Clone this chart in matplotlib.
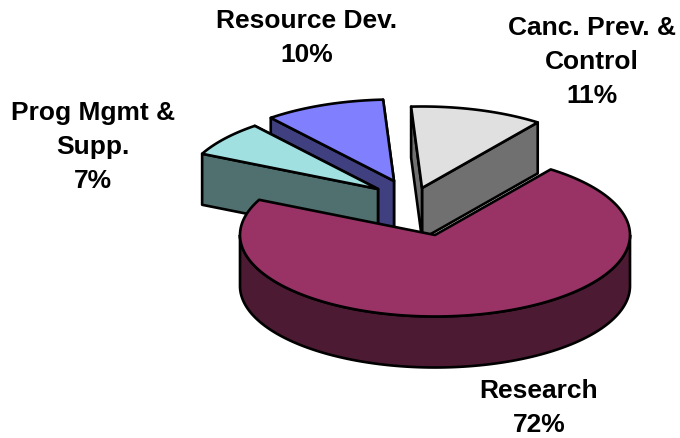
import numpy as np
import matplotlib
matplotlib.use("Agg")
import matplotlib.pyplot as plt
from matplotlib.patches import Polygon

# Data
categories = ["Research", "Canc. Prev. &\nControl", "Resource Dev.", "Prog Mgmt &\nSupp."]
values = [72, 11, 10, 7]

# Styles and layout
top_colors = ["#993366", "#E0E0E0", "#8080FF", "#A0E0E0"]
side_colors = ["#4D1A33", "#707070", "#404080", "#507070"]
centers = [(435, 235), (422, 188), (394, 181), (378, 189)]
label_pos = [(539, 408), (592, 62), (307, 38), (93, 147)]
draw_order = [2, 3, 1, 0]
RX, RY, DEPTH = 195, 81.5, 51
START = 53.6
LW = 1.9

fig = plt.figure(figsize=(6.8, 4.38), dpi=100)
ax = fig.add_axes([0, 0, 1, 1])
ax.set_xlim(0, 680)
ax.set_ylim(438, 0)
ax.axis("off")


def rim(c, a0, a1, dy=0.0):
    t = np.radians(np.linspace(a0, a1, 160))
    return np.column_stack([c[0] + RX * np.cos(t), c[1] - RY * np.sin(t) + dy])


def poly(pts, color, z):
    ax.add_patch(Polygon(pts, closed=True, facecolor=color, edgecolor="black",
                         linewidth=LW, joinstyle="round", zorder=z))


def edge_wall(c, angle, color, z):
    p = rim(c, angle, angle)[0]
    poly([c, p, (p[0], p[1] + DEPTH), (c[0], c[1] + DEPTH)], color, z)


# Slice angles run counter-clockwise: Canc., Resource, Prog, Research
order = [1, 2, 3, 0]
spans = {}
a = START
for i in order:
    b = a + values[i] * 3.6
    spans[i] = (a, b)
    a = b

for z, i in enumerate(draw_order):
    c = centers[i]
    a0, a1 = spans[i]
    base = z * 10 + 1
    if i != 0:
        edge_wall(c, a0, side_colors[i], base)
        edge_wall(c, a1, side_colors[i], base + 1)
    else:
        lo, hi = max(a0, 180), min(a1, 360)
        poly(np.vstack([rim(c, lo, hi), rim(c, hi, lo, DEPTH)]), side_colors[i], base)
    poly(np.vstack([[c], rim(c, a0, a1)]), top_colors[i], base + 2)

for cat, val, (x, y) in zip(categories, values, label_pos):
    ax.text(x, y, f"{cat}\n{val}%", ha="center", va="center", ma="center",
            family="Liberation Sans", fontweight="bold", fontsize=19,
            linespacing=1.55, color="black", zorder=100)

fig.savefig("out.png", dpi=100)
